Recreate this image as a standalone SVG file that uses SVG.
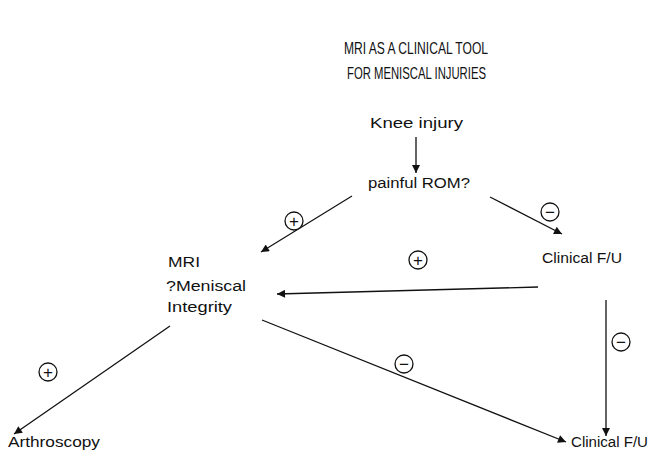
<svg xmlns="http://www.w3.org/2000/svg" width="650" height="455" viewBox="0 0 650 455">
<style>
  text { font-family: "Liberation Sans", "DejaVu Sans", sans-serif; fill: #111; }
  .lbl { font-size: 15.5px; }
  .title { font-size: 17px; }
  .edge { stroke: #111; stroke-width: 1.3; fill: none; marker-end: url(#ah); }
  .sign circle { fill: #fff; stroke: #111; stroke-width: 1.3; }
  .sign text { font-size: 17px; text-anchor: middle; }
</style>
<defs>
  <marker id="ah" viewBox="0 0 10 10" refX="10" refY="5" markerWidth="10" markerHeight="8" markerUnits="userSpaceOnUse" orient="auto">
    <path d="M0,0 L10,5 L0,10 z" fill="#111"/>
  </marker>
</defs>
<rect width="650" height="455" fill="#fff"/>
<g id="title">
  <text class="title" x="344" y="54" textLength="144" lengthAdjust="spacingAndGlyphs">MRI AS A CLINICAL TOOL</text>
  <text class="title" x="347" y="79" textLength="139" lengthAdjust="spacingAndGlyphs">FOR MENISCAL INJURIES</text>
</g>
<g id="connectors">
  <line class="edge" x1="416" y1="137" x2="416" y2="173"/>
  <line class="edge" x1="352" y1="196" x2="261" y2="252"/>
  <line class="edge" x1="490" y1="197" x2="562" y2="234"/>
  <line class="edge" x1="538" y1="287" x2="277" y2="294"/>
  <line class="edge" x1="606" y1="300" x2="606" y2="436"/>
  <line class="edge" x1="262" y1="320" x2="566" y2="442"/>
  <line class="edge" x1="170" y1="326" x2="14" y2="434"/>
</g>
<g id="signs">
  <g class="sign"><circle cx="294" cy="221" r="9"/><text x="294" y="227">+</text></g>
  <g class="sign"><circle cx="550" cy="212" r="9"/><text x="550" y="218">−</text></g>
  <g class="sign"><circle cx="418" cy="260" r="9"/><text x="418" y="266">+</text></g>
  <g class="sign"><circle cx="621" cy="342" r="9"/><text x="621" y="348">−</text></g>
  <g class="sign"><circle cx="404" cy="364" r="9"/><text x="404" y="370">−</text></g>
  <g class="sign"><circle cx="48" cy="372" r="9"/><text x="48" y="378">+</text></g>
</g>
<g id="knee-injury"><text class="lbl" x="370" y="128" textLength="93" lengthAdjust="spacingAndGlyphs">Knee injury</text></g>
<g id="painful-rom"><text class="lbl" x="368" y="188" textLength="102" lengthAdjust="spacingAndGlyphs">painful ROM?</text></g>
<g id="mri">
  <text class="lbl" x="168" y="267" textLength="32" lengthAdjust="spacingAndGlyphs">MRI</text>
  <text class="lbl" x="166" y="291" textLength="80" lengthAdjust="spacingAndGlyphs">?Meniscal</text>
  <text class="lbl" x="167" y="312" textLength="65" lengthAdjust="spacingAndGlyphs">Integrity</text>
</g>
<g id="clinical-fu-1"><text class="lbl" x="542" y="263" textLength="80" lengthAdjust="spacingAndGlyphs">Clinical F/U</text></g>
<g id="clinical-fu-2"><text class="lbl" x="571" y="447" textLength="77" lengthAdjust="spacingAndGlyphs">Clinical F/U</text></g>
<g id="arthroscopy"><text class="lbl" x="8" y="447" textLength="92" lengthAdjust="spacingAndGlyphs">Arthroscopy</text></g>
</svg>
